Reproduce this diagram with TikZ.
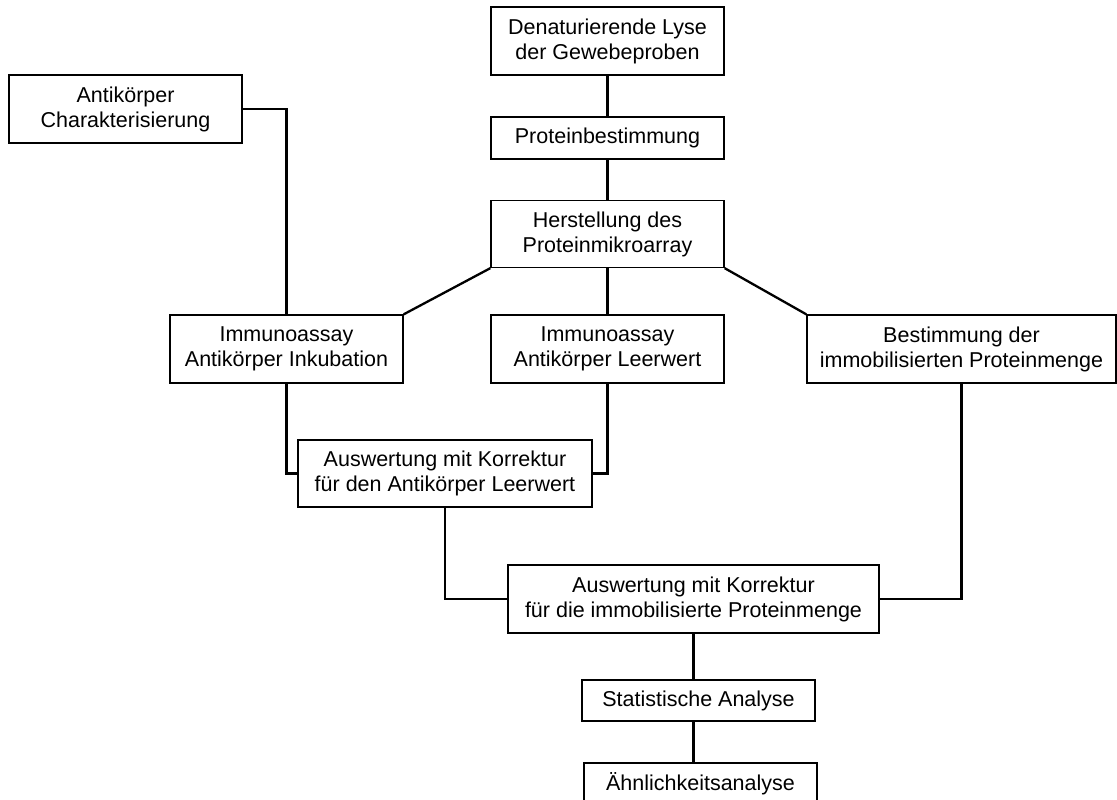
\documentclass[tikz,border=0pt]{standalone}
\usepackage{fontspec}
\setmainfont{Liberation Sans}
\begin{document}
\begin{tikzpicture}[x=1pt,y=-1pt,
  box/.style={draw, line width=1.3pt, inner sep=0pt, align=center,
    font=\fontsize{21.5}{25}\selectfont, fill=white},
  conn/.style={line width=2.3pt}]
\useasboundingbox[fill=white] (0,0) rectangle (1117,800);
\node[box, minimum width=233pt, minimum height=68pt] (achar) at (125.5,109) {Antikörper\\Charakterisierung};
\node[box, minimum width=233pt, minimum height=68pt] (den) at (607.5,41) {Denaturierende Lyse\\der Gewebeproben};
\node[box, minimum width=233pt, minimum height=42pt] (prot) at (607.5,138) {Proteinbestimmung};
\node[box, minimum width=233pt, minimum height=67pt] (her) at (607.5,234) {Herstellung des\\Proteinmikroarray};
\node[box, minimum width=233pt, minimum height=68pt] (ink) at (286.5,349) {Immunoassay\\Antikörper Inkubation};
\node[box, minimum width=233pt, minimum height=68pt] (leer) at (607.5,349) {Immunoassay\\Antikörper Leerwert};
\node[box, minimum width=309pt, minimum height=68pt] (best) at (961.5,349) {Bestimmung der\\immobilisierten Proteinmenge};
\node[box, minimum width=294pt, minimum height=67pt] (aus1) at (445,473.5) {Auswertung mit Korrektur\\für den Antikörper Leerwert};
\node[box, minimum width=371pt, minimum height=68pt] (aus2) at (693.5,599) {Auswertung mit Korrektur\\für die immobilisierte Proteinmenge};
\node[box, minimum width=233pt, minimum height=41pt] (stat) at (698.5,700.5) {Statistische Analyse};
\node[box, minimum width=233pt, minimum height=42pt] (ahn) at (700.5,784) {Ähnlichkeitsanalyse};

\begin{scope}[on background layer/.style={}]
\draw[conn] (achar.east) -| (ink.north);
\draw[conn] (den.south) -- (prot.north);
\draw[conn] (prot.south) -- (her.north);
\draw[conn] (her.south west) -- (ink.north east);
\draw[conn] (her.south) -- (leer.north);
\draw[conn] (her.south east) -- (best.north west);
\draw[conn] (ink.south) |- (aus1.west);
\draw[conn] (leer.south) |- (aus1.east);
\draw[conn] (aus1.south) |- (aus2.west);
\draw[conn] (best.south) |- (aus2.east);
\draw[conn] (aus2.south) -- (aus2.south |- stat.north);
\draw[conn] (aus2.south |- stat.south) -- (aus2.south |- ahn.north);
\end{scope}
\end{tikzpicture}
\end{document}
